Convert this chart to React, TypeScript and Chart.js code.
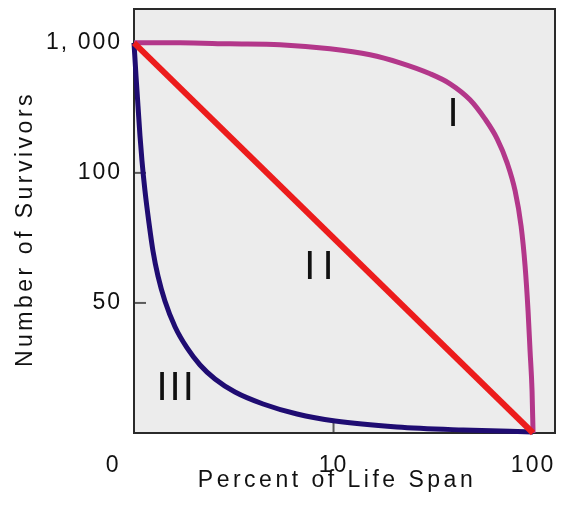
import React, { useEffect, useRef } from 'react';
import { Chart, registerables } from 'chart.js';

Chart.register(...registerables);

// Axis positions are in evenly spaced "tick index" units, as on the reference (non-linear labels)
const xTickPositions = [0, 1, 2];
const xTickLabels = ['0     ', '10', '100'];
const yTickPositions = [1, 2, 3];
const yTickLabels = ['50', '100', '1, 000'];

const xTitle = 'Percent of Life Span';
const yTitle = 'Number of Survivors';

// Type I survivorship curve
const typeIX = [0, 0.231, 0.481, 0.732, 0.982, 1.183, 1.333, 1.484, 1.584, 1.684, 1.759, 1.82, 1.87, 1.91, 1.94, 1.96, 1.975, 1.985, 1.995, 2.0];
const typeIY = [3.0, 3.0, 2.992, 2.985, 2.954, 2.908, 2.846, 2.762, 2.685, 2.562, 2.415, 2.262, 2.077, 1.862, 1.592, 1.285, 0.938, 0.631, 0.323, 0];

// Type II survivorship curve
const typeIIX = [0, 2];
const typeIIY = [3, 0];

// Type III survivorship curve
const typeIIIX = [0, 0.01, 0.02, 0.03, 0.04, 0.055, 0.075, 0.095, 0.12, 0.155, 0.206, 0.266, 0.331, 0.406, 0.506, 0.647, 0.817, 1.008, 1.318, 1.649, 2.0];
const typeIIIY = [3, 2.746, 2.515, 2.285, 2.092, 1.862, 1.615, 1.4, 1.208, 1.015, 0.815, 0.654, 0.523, 0.415, 0.315, 0.223, 0.146, 0.092, 0.046, 0.023, 0.008];

// Curve name labels and their anchor values
const curveNames = ['I', 'II', 'III'];
const curveNameX = [1.599, 0.927, 0.206];
const curveNameY = [2.446, 1.269, 0.338];

const FONT = "'Liberation Sans', Arial, Helvetica, sans-serif";
const TEXT = '#111111';

const toPts = (xs: number[], ys: number[]) => xs.map((x, i) => ({ x, y: ys[i] }));

const decorPlugin = {
  id: 'decor',
  beforeLayout(chart: any) {
    chart.ctx.letterSpacing = '2px';
  },
  beforeDraw(chart: any) {
    const { ctx, chartArea: a } = chart;
    ctx.letterSpacing = '2px';
    ctx.save();
    ctx.fillStyle = '#ececec';
    ctx.fillRect(a.left, a.top, a.right - a.left, a.bottom - a.top);
    ctx.restore();
  },
  beforeDatasetsDraw(chart: any) {
    const { ctx, chartArea: a, scales } = chart;
    ctx.save();
    // tick marks, pointing inward
    ctx.strokeStyle = '#5a5a5a';
    ctx.lineWidth = 2;
    yTickPositions.forEach((v) => {
      const py = scales.y.getPixelForValue(v);
      ctx.beginPath();
      ctx.moveTo(a.left, py);
      ctx.lineTo(a.left + 12, py);
      ctx.stroke();
    });
    xTickPositions.forEach((u) => {
      const px = scales.x.getPixelForValue(u);
      ctx.beginPath();
      ctx.moveTo(px, a.bottom);
      ctx.lineTo(px, a.bottom - 10);
      ctx.stroke();
    });
    // frame
    ctx.strokeStyle = '#2a2a2a';
    ctx.lineWidth = 2;
    ctx.strokeRect(a.left, a.top, a.right - a.left, a.bottom - a.top);
    ctx.restore();
  },
  afterDraw(chart: any) {
    const { ctx, scales } = chart;
    ctx.save();
    ctx.fillStyle = TEXT;
    ctx.textAlign = 'center';
    ctx.textBaseline = 'middle';
    // axis titles
    ctx.letterSpacing = '3.5px';
    ctx.font = `23px ${FONT}`;
    ctx.fillText(xTitle, 337, 481);
    ctx.save();
    ctx.translate(26, 229);
    ctx.rotate(-Math.PI / 2);
    ctx.fillText(yTitle, 0, 0);
    ctx.restore();
    // curve names
    const spacing = [0, 7, 2];
    ctx.font = `40px ${FONT}`;
    curveNames.forEach((t, i) => {
      ctx.letterSpacing = `${spacing[i]}px`;
      const px = scales.x.getPixelForValue(curveNameX[i]) + spacing[i] / 2;
      const py = scales.y.getPixelForValue(curveNameY[i]);
      ctx.fillText(t, px, py);
    });
    ctx.restore();
    ctx.letterSpacing = '2px';
  },
};

export default function App() {
  const ref = useRef<HTMLCanvasElement | null>(null);

  useEffect(() => {
    if (!ref.current) return;
    const chart = new Chart(ref.current, {
      type: 'scatter',
      data: {
        datasets: [
          {
            label: 'II',
            data: toPts(typeIIX, typeIIY),
            showLine: true,
            borderColor: '#ec1c1c',
            borderWidth: 6,
            pointRadius: 0,
            clip: false as any,
          },
          {
            label: 'I',
            data: toPts(typeIX, typeIY),
            showLine: true,
            borderColor: '#b3378a',
            borderWidth: 5,
            pointRadius: 0,
            cubicInterpolationMode: 'monotone',
            clip: false as any,
          },
          {
            label: 'III',
            data: toPts(typeIIIX, typeIIIY),
            showLine: true,
            borderColor: '#1f0c72',
            borderWidth: 5,
            pointRadius: 0,
            cubicInterpolationMode: 'monotone',
            clip: false as any,
          },
        ],
      },
      options: {
        responsive: false,
        animation: false,
        events: [],
        layout: { padding: { top: 9, right: 18, left: 0, bottom: 0 } },
        plugins: { legend: { display: false }, tooltip: { enabled: false } },
        scales: {
          x: {
            type: 'linear',
            min: 0,
            max: 2.11,
            afterBuildTicks: (s: any) => {
              s.ticks = xTickPositions.map((value) => ({ value }));
            },
            afterFit: (s: any) => {
              s.height = 75;
              s.paddingLeft = 0;
              s.paddingRight = 0;
            },
            grid: { display: false, drawTicks: false },
            border: { display: false },
            ticks: {
              autoSkip: false,
              maxRotation: 0,
              padding: 19,
              color: TEXT,
              font: { family: FONT, size: 23 },
              callback: (_v: any, i: number) => xTickLabels[i],
            },
          },
          y: {
            type: 'linear',
            min: 0,
            max: 3.26,
            afterBuildTicks: (s: any) => {
              s.ticks = yTickPositions.map((value) => ({ value }));
            },
            afterFit: (s: any) => {
              s.width = 134;
              s.paddingTop = 0;
              s.paddingBottom = 0;
            },
            grid: { display: false, drawTicks: false },
            border: { display: false },
            ticks: {
              autoSkip: false,
              padding: 12,
              color: TEXT,
              font: { family: FONT, size: 23 },
              callback: (_v: any, i: number) => yTickLabels[i],
            },
          },
        },
      },
      plugins: [decorPlugin],
    } as any);
    return () => chart.destroy();
  }, []);

  return (
    <div style={{ position: 'fixed', left: 0, top: 0, width: 573, height: 508, background: '#fff' }}>
      <canvas ref={ref} width={573} height={508} style={{ display: 'block' }} />
    </div>
  );
}
